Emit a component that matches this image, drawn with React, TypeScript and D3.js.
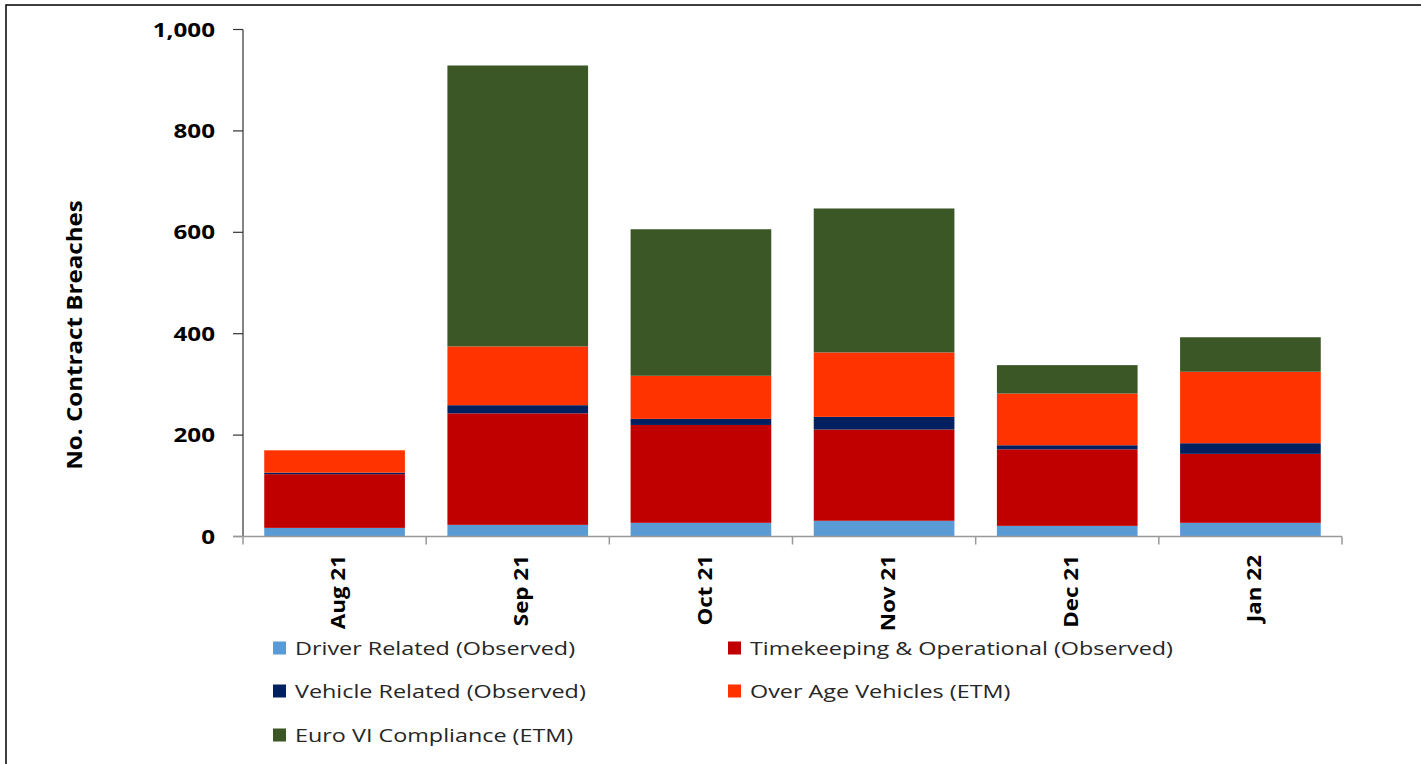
import React from "react";
import * as d3 from "d3";

const categories = ["Aug 21", "Sep 21", "Oct 21", "Nov 21", "Dec 21", "Jan 22"];
const seriesNames = [
  "Driver Related (Observed)",
  "Timekeeping & Operational (Observed)",
  "Vehicle Related (Observed)",
  "Over Age Vehicles (ETM)",
  "Euro VI Compliance (ETM)",
];
const driverRelated = [17, 23, 27, 31, 21, 27];
const timekeeping = [106, 220, 193, 180, 151, 136];
const vehicleRelated = [3, 16, 12, 25, 8, 21];
const overAge = [44, 116, 85, 127, 102, 141];
const euroVI = [0, 554, 289, 284, 56, 68];
const yTicks = [0, 200, 400, 600, 800, 1000];
const colors = ["#5B9BD5", "#C00000", "#002060", "#FF3300", "#3C5726"];

const W = 1421;
const H = 764;
const FONT = "'Open Sans', 'Noto Sans', sans-serif";

export default function App() {
  const seriesValues = [driverRelated, timekeeping, vehicleRelated, overAge, euroVI];
  const rows = categories.map((c, i) => {
    const r: any = { cat: c };
    seriesNames.forEach((s, k) => (r[s] = seriesValues[k][i]));
    return r;
  });
  const stacked = d3.stack().keys(seriesNames)(rows);

  const x = d3.scaleBand().domain(categories).range([243, 1342]).paddingInner(0).paddingOuter(0);
  const y = d3.scaleLinear().domain([0, 1000]).range([536.5, 29.5]);
  const barW = x.bandwidth() * 0.768;

  const legendPos = [
    [273, 648],
    [728, 648],
    [273, 691],
    [728, 691],
    [273, 735],
  ];

  return (
    <svg width={W} height={H} style={{ position: "absolute", left: 0, top: 0, display: "block" }}>
      <rect x={0} y={0} width={W} height={H} fill="#fff" />
      <rect x={6} y={5} width={W} height={H} fill="none" stroke="#000" strokeWidth={1.5} />
      {stacked.map((layer, k) => (
        <g key={k} fill={colors[k]}>
          {layer.map((d, i) => {
            const h = y(d[0]) - y(d[1]);
            if (h <= 0) return null;
            return (
              <rect
                key={i}
                x={(x(categories[i]) as number) + (x.bandwidth() - barW) / 2}
                y={y(d[1])}
                width={barW}
                height={h}
              />
            );
          })}
        </g>
      ))}
      {/* y axis */}
      <line x1={243} x2={243} y1={y(1000)} y2={y(0)} stroke="#333" strokeWidth={1.2} />
      {yTicks.map((t) => (
        <g key={t}>
          <line x1={233} x2={243} y1={y(t)} y2={y(t)} stroke="#333" strokeWidth={1.2} />
          <text
            transform={`translate(215,${y(t)}) scale(1.21,1)`}
            dy="0.35em"
            textAnchor="end"
            fontFamily={FONT}
            fontWeight="bold"
            fontSize={20}
            fill="#000"
          >
            {d3.format(",")(t)}
          </text>
        </g>
      ))}
      {/* x axis */}
      <line x1={233} x2={1342} y1={y(0)} y2={y(0)} stroke="#999" strokeWidth={1.5} />
      {categories.map((c, i) => (
        <line
          key={"t" + i}
          x1={(x(c) as number) + x.bandwidth()}
          x2={(x(c) as number) + x.bandwidth()}
          y1={y(0)}
          y2={y(0) + 8}
          stroke="#999"
          strokeWidth={1.5}
        />
      ))}
      <line x1={243} x2={243} y1={y(0)} y2={y(0) + 8} stroke="#999" strokeWidth={1.5} />
      {categories.map((c) => {
        const cx = (x(c) as number) + x.bandwidth() / 2 + 4;
        return (
          <text
            key={c}
            transform={`translate(${cx},555) rotate(-90) scale(1.18,1)`}
            textAnchor="end"
            dy="0.35em"
            fontFamily={FONT}
            fontWeight="bold"
            fontSize={19}
            fill="#000"
          >
            {c}
          </text>
        );
      })}
      <text
        transform="translate(75,335) rotate(-90) scale(1.15,1)"
        textAnchor="middle"
        dy="0.35em"
        fontFamily={FONT}
        fontWeight="bold"
        fontSize={21}
        fill="#000"
      >
        No. Contract Breaches
      </text>
      {seriesNames.map((s, k) => (
        <g key={s} transform={`translate(${legendPos[k][0]},${legendPos[k][1]})`}>
          <rect x={0} y={-6.5} width={13} height={13} fill={colors[k]} />
          <text
            transform="translate(22,0) scale(1.23,1)"
            dy="0.35em"
            fontFamily={FONT}
            fontSize={19}
            fill="#262626"
          >
            {s}
          </text>
        </g>
      ))}
    </svg>
  );
}
